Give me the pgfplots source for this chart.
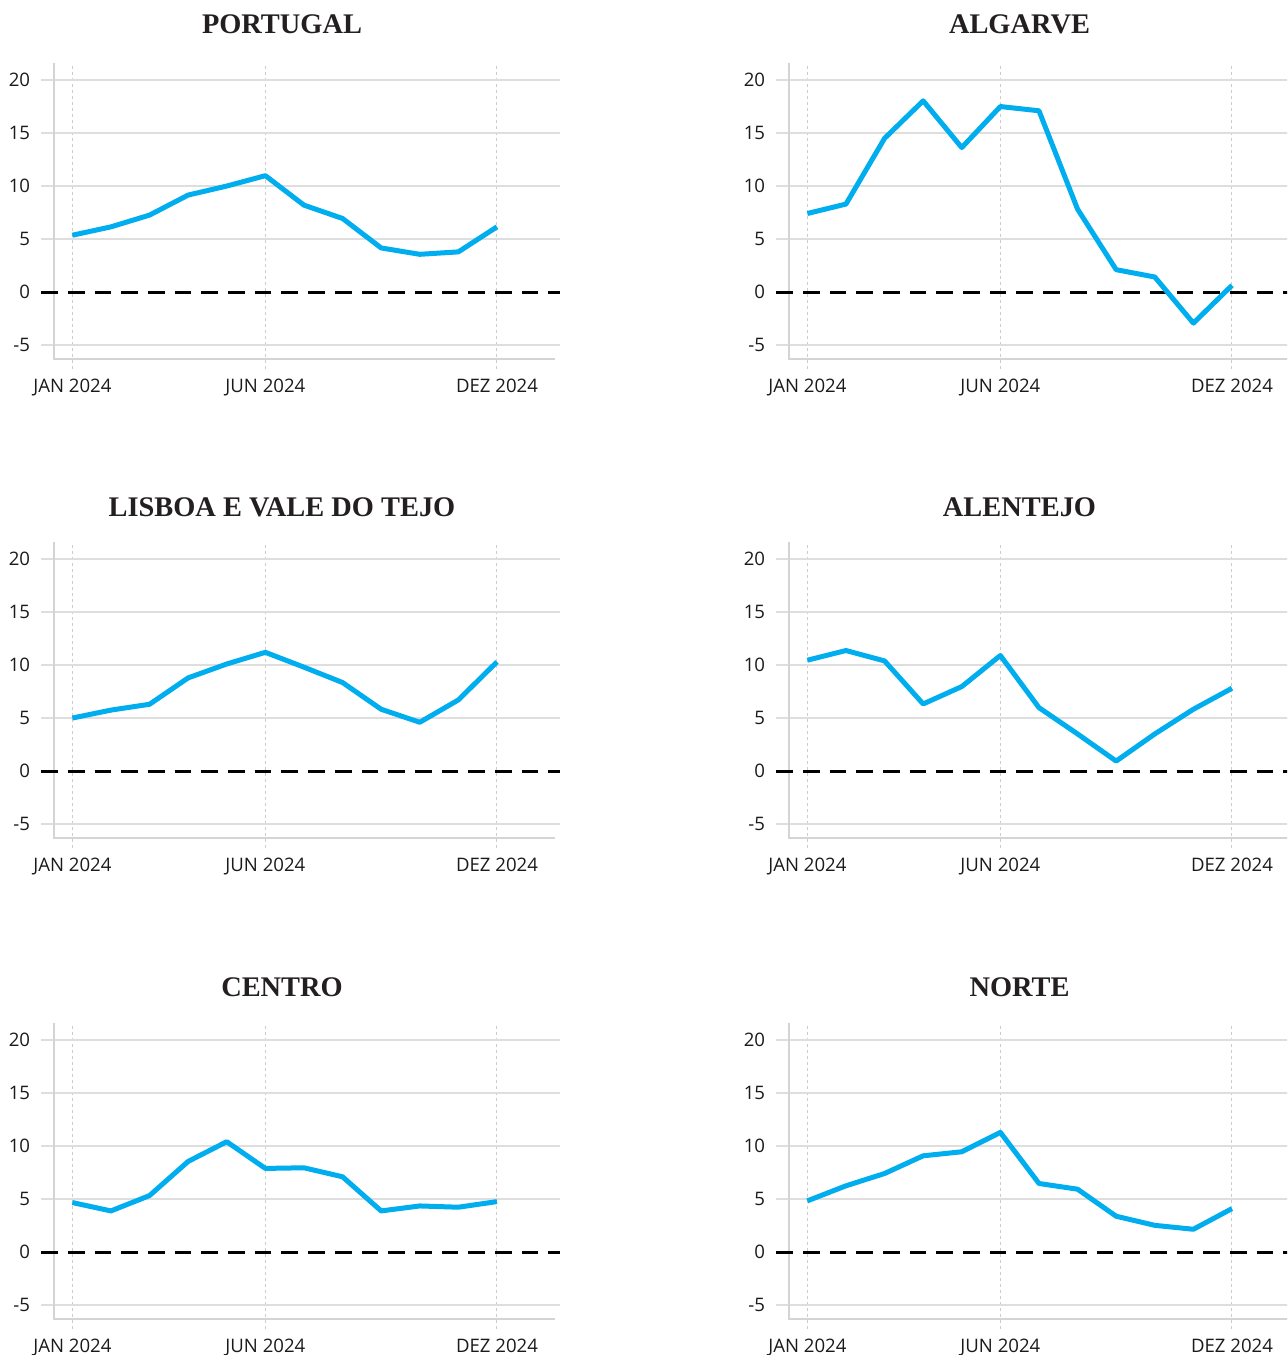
\documentclass[border=0pt]{standalone}
\usepackage{pgfplots}
\pgfplotsset{compat=1.18}
\usepackage{fontspec}
\newfontfamily\tickfont{Open Sans}
\newfontfamily\titlefont{Liberation Serif}
\definecolor{lineblue}{HTML}{00AEEF}
\definecolor{gridgray}{HTML}{DEDEDE}
\definecolor{axisgray}{HTML}{D4D4D4}
\definecolor{vgray}{HTML}{CCCCCC}
\definecolor{titlecol}{HTML}{231F20}
\definecolor{tickcol}{HTML}{1A1A1A}

\newcommand{\panel}[6]{%
\begin{axis}[
  at={({(#1+41.1)*0.5pt},{-(#2+369)*0.5pt})}, anchor=south west,
  x=19.3pt, y=5.3pt,
  xmin=-0.81, xmax=12.64, ymin=-7.26, ymax=21.57,
  axis line style={draw=none},
  clip=false,
  xtick={0,5,11}, xticklabels={JAN 2024, JUN 2024, DEZ 2024},
  ytick={-5,5,10,15,20}, yticklabels={-5,5,10,15,20},
  extra y ticks={0}, extra y tick labels={0}, extra y tick style={grid=none},
  major tick length=0pt, tick style={draw=none},
  xmajorgrids, ymajorgrids,
  major x grid style={vgray, line width=0.5pt, dash pattern=on 1.5pt off 1.5pt},
  major y grid style={gridgray, line width=0.65pt},
  xticklabel style={anchor=north, inner sep=0pt, yshift=-5pt, text=tickcol, font=\tickfont\fontsize{9.3}{11}\selectfont},
  yticklabel style={anchor=east, inner sep=0pt, xshift=-5.3pt, text=tickcol, font=\tickfont\fontsize{9.3}{11}\selectfont},
]
\draw[axisgray, line width=1pt] (axis cs:-0.477,21.57) -- (axis cs:-0.477,-6.35) -- (axis cs:12.51,-6.35);
\draw[black, line width=1.5pt, dash pattern=on 8.35pt off 5pt] (axis cs:-0.81,0) -- (axis cs:12.64,0);
\addplot[lineblue, line width=2.5pt, line join=round, mark=none] coordinates {#6};
\end{axis}
\node[anchor=base, inner sep=0pt, text=titlecol, font=\titlefont\bfseries\fontsize{14.2}{16}\selectfont] at ({#4*0.5pt},{-#5*0.5pt}) {#3};
}

\begin{document}
\begin{tikzpicture}
\useasboundingbox (0,0) rectangle (643.5pt,-677.5pt);
\clip (0,0) rectangle (643.5pt,-677.5pt);
% Row 1
\panel{0}{0}{PORTUGAL}{282}{33.5}{(0,5.36) (1,6.15) (2,7.26) (3,9.15) (4,10.0) (5,10.98) (6,8.2) (7,6.94) (8,4.16) (9,3.56) (10,3.79) (11,6.15)}
\panel{735}{0}{ALGARVE}{1019.5}{33.5}{(0,7.41) (1,8.3) (2,14.5) (3,18.04) (4,13.63) (5,17.5) (6,17.1) (7,7.82) (8,2.11) (9,1.42) (10,-2.93) (11,0.63)}
% Row 2
\panel{0}{479}{LISBOA E VALE DO TEJO}{282}{516.5}{(0,5.0) (1,5.75) (2,6.3) (3,8.79) (4,10.1) (5,11.2) (6,9.8) (7,8.35) (8,5.83) (9,4.6) (10,6.71) (11,10.3)}
\panel{735}{479}{ALENTEJO}{1019.5}{516.5}{(0,10.46) (1,11.37) (2,10.39) (3,6.33) (4,7.97) (5,10.9) (6,5.98) (7,3.5) (8,0.94) (9,3.5) (10,5.83) (11,7.81)}
% Row 3
\panel{0}{960}{CENTRO}{282}{996}{(0,4.67) (1,3.88) (2,5.33) (3,8.55) (4,10.41) (5,7.89) (6,7.95) (7,7.1) (8,3.88) (9,4.35) (10,4.23) (11,4.76)}
\panel{735}{960}{NORTE}{1019.5}{996}{(0,4.83) (1,6.25) (2,7.41) (3,9.08) (4,9.46) (5,11.29) (6,6.47) (7,5.93) (8,3.38) (9,2.52) (10,2.15) (11,4.1)}
\end{tikzpicture}
\end{document}
